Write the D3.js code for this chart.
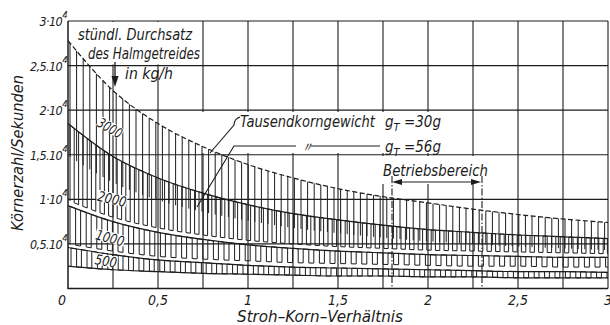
<!DOCTYPE html>
<html><head><meta charset="utf-8">
<script src="https://cdn.jsdelivr.net/npm/d3@7"></script>
<style>
html,body{margin:0;padding:0;background:#fff;}
svg{display:block;}
text{font-family:'Liberation Sans Narrow','DejaVu Sans Condensed','Liberation Sans',sans-serif;font-style:italic;fill:#1c1c1c;}
</style></head><body>
<svg id="c" width="610" height="325"></svg>
<script>
// ---- data (values in units of 10^4 grains per second) ----
const xs      = [0, 0.25, 0.5, 0.75, 1, 1.25, 1.5, 1.75, 2, 2.25, 2.5, 2.75, 3];
const hi3000  = [2.78, 2.22, 1.85, 1.59, 1.39, 1.24, 1.12, 1.03, 0.96, 0.89, 0.83, 0.78, 0.74];
const lo3000  = [1.49, 1.19, 0.99, 0.86, 0.76, 0.68, 0.62, 0.57, 0.53, 0.50, 0.47, 0.45, 0.43];
const hi2000  = [1.85, 1.48, 1.24, 1.07, 0.94, 0.84, 0.77, 0.71, 0.66, 0.63, 0.60, 0.58, 0.56];
const lo2000  = [0.99, 0.80, 0.68, 0.60, 0.54, 0.50, 0.47, 0.45, 0.43, 0.42, 0.41, 0.40, 0.39];
const hi1000  = [0.93, 0.75, 0.63, 0.55, 0.49, 0.45, 0.42, 0.40, 0.38, 0.37, 0.36, 0.35, 0.35];
const lo1000  = [0.50, 0.42, 0.36, 0.33, 0.31, 0.29, 0.28, 0.27, 0.26, 0.25, 0.25, 0.24, 0.24];
const hi500   = [0.46, 0.38, 0.32, 0.29, 0.26, 0.24, 0.23, 0.22, 0.21, 0.20, 0.19, 0.19, 0.18];
const lo500   = [0.25, 0.21, 0.19, 0.17, 0.16, 0.15, 0.14, 0.14, 0.13, 0.13, 0.12, 0.12, 0.12];
const bandLabels = ["3000", "2000", "1000", "500"];
const xTicks      = [0, 0.5, 1, 1.5, 2, 2.5, 3];
const xTickLabels = ["0", "0,5", "1", "1,5", "2", "2,5", "3"];
const yTicks      = [0.5, 1, 1.5, 2, 2.5, 3];
const yTickLabels = ["0,5.10", "1·10", "1,5.10", "2·10", "2,5.10", "3·10"];
const xGrid = [0.25, 0.5, 0.75, 1, 1.25, 1.5, 1.75, 2, 2.25, 2.5, 2.75, 3];
const yGrid = [0.5, 1, 1.5, 2, 2.5, 3];
const betrieb = [1.8, 2.3];

const svg = d3.select("#c");
const x = d3.scaleLinear().domain([0, 3]).range([68, 608]);
const y = d3.scaleLinear().domain([0, 3]).range([288.5, 21]);
const INK = "#1c1c1c";

// grid
const grid = svg.append("g").attr("stroke", INK).attr("stroke-width", 1.1);
grid.selectAll(".v").data(xGrid).join("line")
  .attr("x1", d => x(d)).attr("x2", d => x(d)).attr("y1", y(3)).attr("y2", y(0));
grid.selectAll(".h").data(yGrid).join("line")
  .attr("x1", x(0)).attr("x2", x(3)).attr("y1", d => y(d)).attr("y2", d => y(d));
// masks over grid behind annotations
const masks = [[70, 22, 132, 42.5], [200, 112, 248, 41], [380, 156, 112, 28]];
svg.append("g").selectAll("rect").data(masks).join("rect")
  .attr("x", d => d[0]).attr("y", d => d[1]).attr("width", d => d[2]).attr("height", d => d[3])
  .attr("fill", "#fff");
// axes
svg.append("path").attr("d", `M${x(0)},${y(3)}V${y(0)}H${x(3)}`)
  .attr("fill", "none").attr("stroke", INK).attr("stroke-width", 1.5);

// curves
const line = d3.line().x((d, i) => x(xs[i])).y(d => y(d)).curve(d3.curveMonotoneX);
const hidden = svg.append("g").attr("fill", "none").attr("stroke", "none");
function mk(arr) { return hidden.append("path").attr("d", line(arr)).node(); }
const P = {
  hi3000: mk(hi3000), lo3000: mk(lo3000), hi2000: mk(hi2000), lo2000: mk(lo2000),
  hi1000: mk(hi1000), lo1000: mk(lo1000), hi500: mk(hi500), lo500: mk(lo500)
};
function yAt(node, px) {
  let lo = 0, hi = node.getTotalLength();
  for (let i = 0; i < 28; i++) {
    const m = (lo + hi) / 2;
    if (node.getPointAtLength(m).x < px) lo = m; else hi = m;
  }
  return node.getPointAtLength((lo + hi) / 2).y;
}
const X0 = x(0) + 1, X1 = x(3);

// 3000 band: plain vertical hatching
let d3000 = "";
for (let px = X0 + 1; px < X1; px += 6.6) {
  d3000 += `M${px.toFixed(1)},${yAt(P.lo3000, px).toFixed(1)}V${yAt(P.hi3000, px).toFixed(1)}`;
}
svg.append("path").attr("d", d3000).attr("fill", "none").attr("stroke", INK).attr("stroke-width", 1);

// square-wave hatching for other bands
function wave(hiN, loN, period, w, start) {
  let px = start;
  let d = `M${px.toFixed(1)},${yAt(loN, px).toFixed(1)}`;
  while (px < X1) {
    const a = Math.min(px + w, X1), b = Math.min(px + period, X1);
    d += `L${px.toFixed(1)},${yAt(hiN, px).toFixed(1)}L${a.toFixed(1)},${yAt(hiN, a).toFixed(1)}L${a.toFixed(1)},${yAt(loN, a).toFixed(1)}`;
    if (b > a) d += `L${b.toFixed(1)},${yAt(loN, b).toFixed(1)}`;
    px = b;
  }
  return d;
}
const waves = [
  [P.hi2000, P.lo2000, 8.6, 4.2, X0 + 1],
  [P.hi1000, P.lo1000, 10.6, 5.6, X0 + 1],
  [P.hi500, P.lo500, 10.4, 5.6, X0 + 2]
];
svg.append("g").selectAll("path").data(waves).join("path")
  .attr("d", d => wave(d[0], d[1], d[2], d[3], d[4]))
  .attr("fill", "none").attr("stroke", INK).attr("stroke-width", 1);

// boundary curves
svg.append("path").attr("d", line(hi3000)).attr("fill", "none").attr("stroke", INK)
  .attr("stroke-width", 1.2).attr("stroke-dasharray", "5,2.5");
[hi2000, hi1000, hi500, lo500].forEach(arr => {
  svg.append("path").attr("d", line(arr)).attr("fill", "none").attr("stroke", INK).attr("stroke-width", 1.2);
});

// Betriebsbereich lines
svg.append("g").selectAll("line").data(betrieb).join("line")
  .attr("x1", d => x(d)).attr("x2", d => x(d)).attr("y1", 176).attr("y2", y(0))
  .attr("stroke", INK).attr("stroke-width", 1.1).attr("stroke-dasharray", "7,2,1.5,2");
svg.append("line").attr("x1", x(betrieb[0]) + 8).attr("x2", x(betrieb[1]) - 8)
  .attr("y1", 182).attr("y2", 182).attr("stroke", INK).attr("stroke-width", 1.1);
svg.append("path").attr("fill", INK)
  .attr("d", `M${x(betrieb[0])},182l10,-3v6z M${x(betrieb[1]) - 1},182l-10,-3v6z`);

// axis tick labels
svg.append("g").selectAll("text").data(xTicks).join("text")
  .attr("x", (d, i) => x(d) - (i === 0 ? 6 : 0)).attr("y", 305)
  .attr("text-anchor", "middle").attr("font-size", 14)
  .text((d, i) => xTickLabels[i]);
const yl = svg.append("g").selectAll("text").data(yTicks).join("text")
  .attr("x", 67).attr("y", d => y(d) + 5).attr("text-anchor", "end").attr("font-size", 12.5)
  .attr("letter-spacing", -0.6);
yl.append("tspan").text((d, i) => yTickLabels[i]);
yl.append("tspan").attr("dy", -8).attr("font-size", 9.5).text("4");

// axis titles
svg.append("text").attr("x", 320).attr("y", 321.5).attr("text-anchor", "middle")
  .attr("font-size", 15).attr("textLength", 166).attr("lengthAdjust", "spacingAndGlyphs")
  .text("Stroh–Korn–Verhältnis");
svg.append("text").attr("transform", "translate(23,153) rotate(-90)").attr("text-anchor", "middle")
  .attr("font-size", 15).attr("textLength", 156).attr("lengthAdjust", "spacingAndGlyphs")
  .text("Körnerzahl/Sekunden");

// annotation upper left
function txt(s, tx, ty, len, fs) {
  const t = svg.append("text").attr("x", tx).attr("y", ty).attr("font-size", fs || 15).text(s);
  if (len) t.attr("textLength", len).attr("lengthAdjust", "spacingAndGlyphs");
  return t;
}
txt("stündl. Durchsatz", 78, 40, 114);
txt("des Halmgetreides", 88, 59, 112);
txt("in kg/h", 125, 79, 48);
svg.append("line").attr("x1", 115).attr("x2", 115).attr("y1", 62).attr("y2", 78)
  .attr("stroke", INK).attr("stroke-width", 1.3);
svg.append("path").attr("d", "M115,87l-3.5,-11h7z").attr("fill", INK);

// Tausendkorngewicht
txt("Tausendkorngewicht", 240, 127, 135);
const g1 = txt("", 385, 127, null);
g1.append("tspan").text("g");
g1.append("tspan").attr("dy", 4).attr("font-size", 11).text("T");
g1.append("tspan").attr("dy", -4).text(" =30g");
svg.append("path").attr("d", "M240,117 Q234,119 234,125 L210,153")
  .attr("fill", "none").attr("stroke", INK).attr("stroke-width", 1.1);
svg.append("path").attr("d", "M296,146H234L197,207 M311,146H380")
  .attr("fill", "none").attr("stroke", INK).attr("stroke-width", 1.1);
svg.append("text").attr("x", 300).attr("y", 152).attr("font-size", 14).text("〃");
const g2 = txt("", 385, 152, null);
g2.append("tspan").text("g");
g2.append("tspan").attr("dy", 4).attr("font-size", 11).text("T");
g2.append("tspan").attr("dy", -4).text(" =56g");
txt("Betriebsbereich", 383, 176, 105);

// band labels (rotated, with white background)
const labelPos = [[110, 128, 30, 27], [112, 199, 13, 30], [110, 238, 15, 30], [106, 261, 10, 23]];
const lg = svg.append("g").selectAll("g").data(bandLabels).join("g")
  .attr("transform", (d, i) => `translate(${labelPos[i][0]},${labelPos[i][1]}) rotate(${labelPos[i][2]})`);
lg.append("rect").attr("x", (d, i) => -labelPos[i][3] / 2).attr("y", -6).attr("width", (d, i) => labelPos[i][3])
  .attr("height", 11).attr("fill", "#fff");
lg.append("text").attr("text-anchor", "middle").attr("y", 5).attr("font-size", 14)
  .attr("textLength", (d, i) => labelPos[i][3] - 1).attr("lengthAdjust", "spacingAndGlyphs").text(d => d);
</script>
</body></html>
